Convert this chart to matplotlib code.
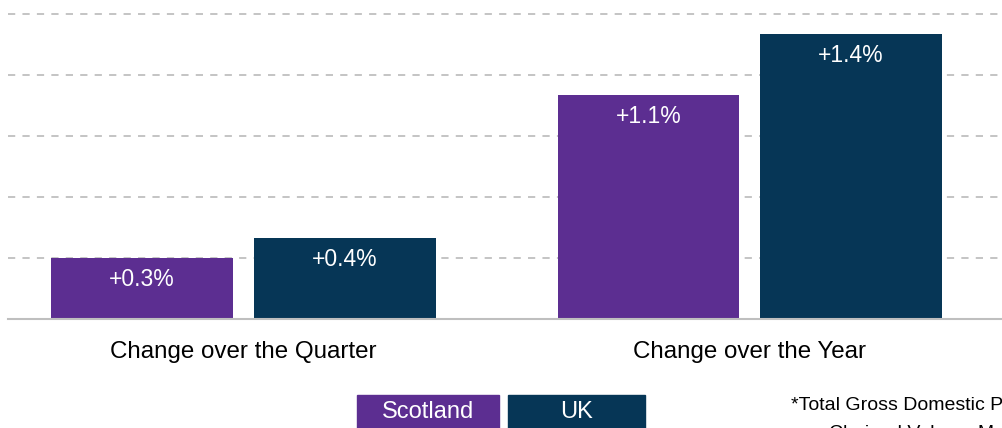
import matplotlib.pyplot as plt
from matplotlib.patches import Rectangle
import numpy as np

plt.rcParams["font.family"] = ["Liberation Sans", "DejaVu Sans"]

categories = ["Change over the Quarter", "Change over the Year"]
series = ["Scotland", "UK"]
scotland = [0.3, 1.1]
uk = [0.4, 1.4]
colors = ["#5C2E91", "#063656"]
footnote = ["*Total Gross Domestic Product (GDP)", "Chained Volume Measure"]

fig = plt.figure(figsize=(10.03, 4.28), dpi=100)
ax = fig.add_axes([8 / 1003, 1 - 319 / 428, 1 - 8 / 1003, 319 / 428])

x = np.arange(len(categories))
width = 0.359
offset = 0.2
for vals, dx, col in zip([scotland, uk], [-offset, offset], colors):
    bars = ax.bar(x + dx, vals, width, color=col, zorder=3)
    for b, v in zip(bars, vals):
        ax.text(b.get_x() + b.get_width() / 2, v - 0.105, f"+{v:.1f}%",
                ha="center", va="center", color="white", fontsize=16.5, zorder=4)

ax.set_xlim(-0.465, 1.5)
ax.set_ylim(0, 1.569)
ax.set_yticks(np.arange(0.3, 1.6, 0.3))
ax.yaxis.grid(True, linestyle=(0, (4, 4)), color="#BFBFBF", linewidth=1.3, zorder=0)
ax.tick_params(left=False, labelleft=False, bottom=False, labelbottom=False)
for s in ["top", "right", "left"]:
    ax.spines[s].set_visible(False)
ax.spines["bottom"].set_color("#BFBFBF")
ax.spines["bottom"].set_linewidth(1.5)
ax.spines["bottom"].set_zorder(5)

for xi, cat in zip(x, categories):
    ax.annotate(cat, (xi, 0), xytext=(0, -23.5), textcoords="offset points",
                ha="center", va="center", fontsize=17.4, annotation_clip=False)

# legend boxes
boxes = [(357, 499), (508, 645)]
for (x0, x1), name, col in zip(boxes, series, colors):
    fig.patches.append(Rectangle((x0 / 1003, -0.02), (x1 - x0) / 1003, 0.02 + 33 / 428,
                                 transform=fig.transFigure, color=col))
    fig.text((x0 + x1) / 2 / 1003, 16 / 428, name, ha="center", va="center",
             color="white", fontsize=17)

fig.text(791 / 1003, (428 - 405) / 428, footnote[0], ha="left", va="center", fontsize=14)
fig.text(829 / 1003, (428 - 434) / 428, footnote[1], ha="left", va="center", fontsize=14)

fig.savefig("out.png", dpi=100)
